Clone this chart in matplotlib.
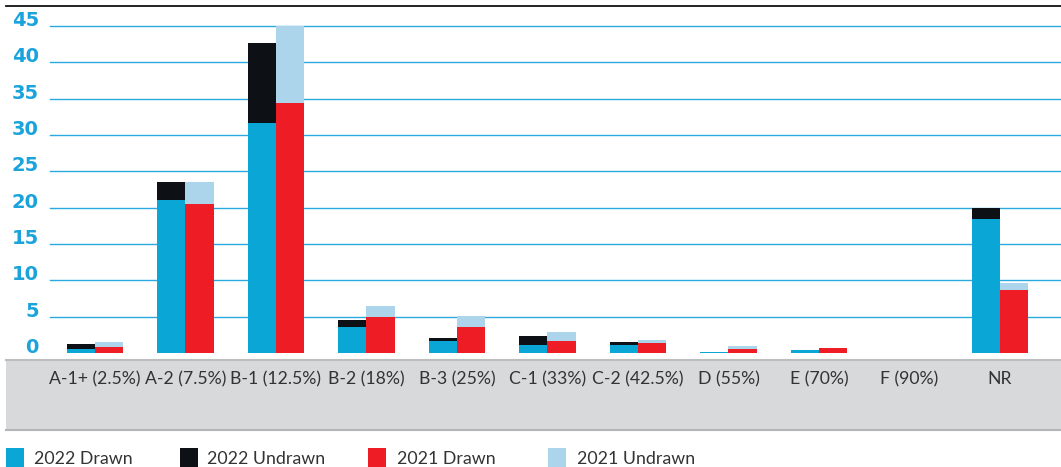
import matplotlib
matplotlib.use("Agg")
import matplotlib.pyplot as plt
import matplotlib.transforms as mtransforms
import numpy as np
from matplotlib.patches import Rectangle
from matplotlib.lines import Line2D

categories = ["A-1+ (2.5%)", "A-2 (7.5%)", "B-1 (12.5%)", "B-2 (18%)", "B-3 (25%)",
              "C-1 (33%)", "C-2 (42.5%)", "D (55%)", "E (70%)", "F (90%)", "NR"]
drawn_2022 = [0.55, 21.1, 31.65, 3.6, 1.65, 1.1, 1.1, 0.15, 0.4, 0.0, 18.4]
undrawn_2022 = [0.7, 2.4, 10.95, 0.95, 0.4, 1.25, 0.4, 0.0, 0.0, 0.0, 1.5]
drawn_2021 = [0.8, 20.55, 34.45, 4.95, 3.6, 1.65, 1.4, 0.55, 0.7, 0.0, 8.65]
undrawn_2021 = [0.7, 2.95, 10.55, 1.5, 1.5, 1.25, 0.4, 0.4, 0.0, 0.0, 0.95]
y_ticks = [0, 5, 10, 15, 20, 25, 30, 35, 40, 45]
legend_labels = ["2022 Drawn", "2022 Undrawn", "2021 Drawn", "2021 Undrawn"]

C_D22 = "#0aa7d6"
C_U22 = "#0d1014"
C_D21 = "#ee1c25"
C_U21 = "#acd5ec"
C_TICK = "#1ba3dc"
C_GRID = "#29a9de"
C_TEXT = "#333333"

W, H = 1061, 467
fig = plt.figure(figsize=(W / 100, H / 100), dpi=100)

def fx(px):
    return px / W

def fy(py):
    return 1 - py / H

# grey category band (behind everything)
fig.add_artist(Rectangle((fx(6), fy(430)), 1 - fx(6), fy(360) - fy(430),
                         facecolor="#d8d9db", edgecolor="none", zorder=-10))
fig.add_artist(Line2D([fx(6), 1], [fy(360), fy(360)], color="#bdbdbd", lw=1.5, zorder=-9))
fig.add_artist(Line2D([fx(6), 1], [fy(430), fy(430)], color="#b5b5b5", lw=1.5, zorder=-9))

# plot area
ax = fig.add_axes([fx(50), fy(353), fx(1061 - 50), fy(26) - fy(353)])
ax.patch.set_visible(False)
x = np.arange(len(categories))
bw = 0.31
ax.bar(x - bw / 2, drawn_2022, bw, color=C_D22, zorder=3)
ax.bar(x - bw / 2, undrawn_2022, bw, bottom=drawn_2022, color=C_U22, zorder=3)
ax.bar(x + bw / 2, drawn_2021, bw, color=C_D21, zorder=3)
ax.bar(x + bw / 2, undrawn_2021, bw, bottom=drawn_2021, color=C_U21, zorder=3)

ax.set_xlim(-0.497, 10.674)
ax.set_ylim(0, 45)
for v in y_ticks[1:]:
    ax.axhline(v, color=C_GRID, lw=1.0, zorder=1, clip_on=False)
for s in ax.spines.values():
    s.set_visible(False)
ax.set_xticks([])
ax.set_yticks(y_ticks)
ax.set_yticklabels([str(v) for v in y_ticks], va="baseline", color=C_TICK,
                   fontweight="bold", fontsize=14, family="DejaVu Sans")
ax.tick_params(axis="y", length=0, pad=8)

# category labels sit inside the grey band
off = mtransforms.ScaledTranslation(0, -(379 - 353) / 100, fig.dpi_scale_trans)
trans = ax.get_xaxis_transform() + off
for i, lab in enumerate(categories):
    ax.text(i, 0, lab, transform=trans, ha="center", va="center", color=C_TEXT,
            fontsize=12.7, family="Lato", clip_on=False, zorder=5)

# rule along the top
fig.add_artist(Line2D([fx(6), 1], [fy(6), fy(6)], color="#111111", lw=1.3))

# legend
leg_sq = [6, 180, 368, 548]
leg_tx = [34, 207, 397, 577]
for sq, tx, lab, col in zip(leg_sq, leg_tx, legend_labels, [C_D22, C_U22, C_D21, C_U21]):
    fig.add_artist(Rectangle((fx(sq), fy(468)), fx(18), fy(448) - fy(468),
                             facecolor=col, edgecolor="none"))
    fig.text(fx(tx), fy(459), lab, ha="left", va="center", color=C_TEXT,
             fontsize=12.8, family="Lato")

fig.savefig("out.png", dpi=100)
